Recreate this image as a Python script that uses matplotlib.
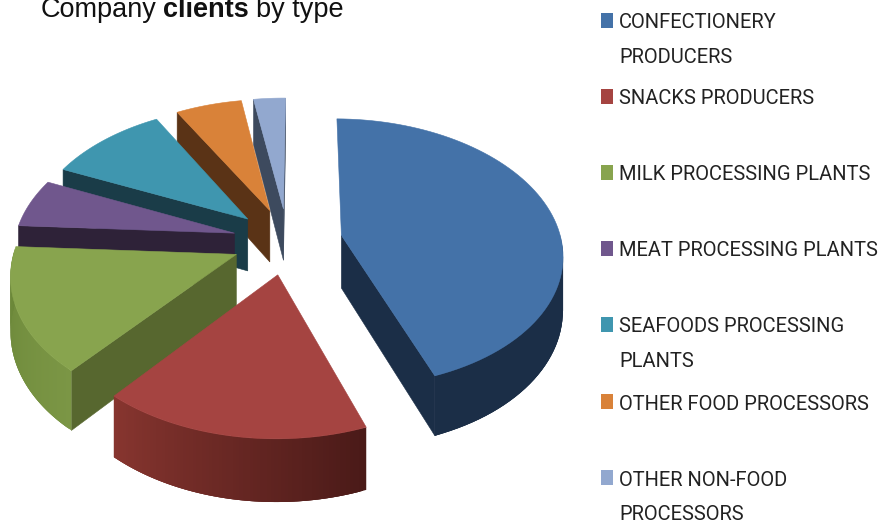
import numpy as np
import matplotlib
matplotlib.use("Agg")
import matplotlib.pyplot as plt
from matplotlib.patches import Polygon, Rectangle
from matplotlib.colors import to_rgb

# Valores (em %)
categorias = [
    "CONFECTIONERY\nPRODUCERS",
    "SNACKS PRODUCERS",
    "MILK PROCESSING PLANTS",
    "MEAT PROCESSING PLANTS",
    "SEAFOODS PROCESSING\nPLANTS",
    "OTHER FOOD PROCESSORS",
    "OTHER NON-FOOD\nPROCESSORS",
]
valores = [44.2, 16.7, 14.8, 5.8, 10.1, 5.6, 2.7]

cores_topo = ["#4472A8", "#A54441", "#88A44E", "#70578D", "#3F96AF", "#D98239", "#92A8CF"]
cores_parede = ["#1B2E47", "#5A2220", "#57672F", "#2E2238", "#1A3C48", "#5A3316", "#3D4A5E"]
# cor da borda curva: inicio e fim do gradiente
rim_ini = ["#1B2E47", "#4A1A18", "#7B9645", "#2E2238", "#1A3C48", "#5A3316", "#3D4A5E"]
rim_fim = ["#1B2E47", "#87352F", "#6B8739", "#2E2238", "#1A3C48", "#5A3316", "#3D4A5E"]

legenda_y = [20, 96, 172, 248, 324, 401, 477]

# Geometria da pizza em perspectiva
cx, cy = 287.5, 241
a, b = 220, 133
k = 0.13
explode = 0.25
prof = 53
inicio = 0.5


def proj(x, y, z=0.0):
    f = 1 + k * y
    return cx + a * x / f, cy - b * y / f + prof * z / f


fig = plt.figure(figsize=(8.89, 5.24), dpi=100)
ax = fig.add_axes([0, 0, 1, 1])
ax.set_xlim(0, 889)
ax.set_ylim(524, 0)
ax.axis("off")

total = sum(valores)
angulos = inicio + np.cumsum([0] + [v / total * 360 for v in valores])


def desenha_fatia(i):
    t1, t2 = np.radians(angulos[i]), np.radians(angulos[i + 1])
    meio = (t1 + t2) / 2
    ox, oy = explode * np.sin(meio), explode * np.cos(meio)
    ts = np.linspace(t1, t2, 80)
    xs, ys = ox + np.sin(ts), oy + np.cos(ts)

    # paredes radiais visiveis
    for t, normal in ((t1, t1 - np.pi / 2), (t2, t2 + np.pi / 2)):
        if np.cos(normal) < 0:
            px, py = ox + np.sin(t), oy + np.cos(t)
            pts = [proj(ox, oy), proj(px, py), proj(px, py, 1), proj(ox, oy, 1)]
            ax.add_patch(Polygon(pts, closed=True, fc=cores_parede[i], ec=cores_parede[i], lw=0.4))

    # borda curva com gradiente, so a parte da frente (quads sobrepostos p/ nao ter emenda)
    c0, c1 = np.array(to_rgb(rim_ini[i])), np.array(to_rgb(rim_fim[i]))
    frente = [j for j in range(len(ts) - 1) if np.cos((ts[j] + ts[j + 1]) / 2) < 0.02]
    for n, j in enumerate(frente):
        c = c0 + (c1 - c0) * n / max(len(frente) - 1, 1)
        fim = min(j + 3, len(ts) - 1)
        pts = [proj(xs[j], ys[j]), proj(xs[fim], ys[fim]),
               proj(xs[fim], ys[fim], 1), proj(xs[j], ys[j], 1)]
        ax.add_patch(Polygon(pts, closed=True, fc=c, ec="none"))

    # tampo
    pts = [proj(ox, oy)] + [proj(x, y) for x, y in zip(xs, ys)]
    ax.add_patch(Polygon(pts, closed=True, fc=cores_topo[i], ec=cores_topo[i], lw=0.4))


# de tras para frente
for i in [6, 5, 4, 3, 2, 1, 0]:
    desenha_fatia(i)

# Titulo cortado no topo, como no original
ax.text(41, 17, "Company", fontsize=19.5, family="Liberation Sans", color="#111111")
ax.text(163, 17, "clients", fontsize=19.5, family="Liberation Sans", weight="bold", color="#111111")
ax.text(256, 17, "by type", fontsize=19.5, family="Liberation Sans", color="#111111")

# Legenda
for nome, cor, y in zip(categorias, cores_topo, legenda_y):
    ax.add_patch(Rectangle((601, y - 7.5), 12, 15, fc=cor, ec="none"))
    for n, linha in enumerate(nome.split("\n")):
        ax.text(619, y + 8.5 + 34.5 * n, linha, fontsize=14.5, family="Roboto", color="#222222")

plt.savefig("out.png", dpi=100)
plt.close()
